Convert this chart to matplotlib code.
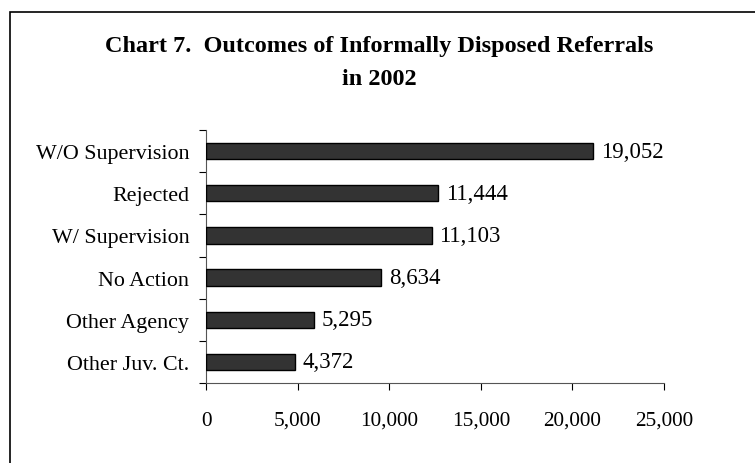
""" Horizontal bar chart of informally disposed referral outcomes.
"""

import matplotlib
matplotlib.use('Agg')
import matplotlib.pyplot as plt
from matplotlib.patches import Rectangle
from matplotlib.ticker import FuncFormatter, FixedLocator

categories = ['W/O Supervision', 'Rejected', 'W/ Supervision',
              'No Action', 'Other Agency', 'Other Juv. Ct.']
counts = [19052, 11444, 11103, 8634, 5295, 4372]
x_ticks = [0, 5000, 10000, 15000, 20000, 25000]

title = 'Chart 7.  Outcomes of Informally Disposed Referrals\nin 2002'

# the original draws its bars on a slightly shorter scale than the tick axis
bar_scale_max = 22550
axis_max = 25000

plt.rcParams['font.family'] = ['Liberation Serif', 'DejaVu Serif']

fig = plt.figure(figsize=(7.55, 4.64), dpi=100)

# outer frame, open to the right and bottom like the clipped original
fig.patches.append(Rectangle((10 / 755, -0.1), 1.2, 1 - 13 / 464 + 0.1,
                             transform=fig.transFigure, fill=False,
                             edgecolor='black', linewidth=1.2))

fig.text(379 / 755, 1 - 63 / 464, title, ha='center', va='center',
         fontsize=17.5, fontweight='bold', linespacing=1.8)

ax = fig.add_axes([206 / 755, 1 - 384 / 464, 458 / 755, 253 / 464])
ax.set_xlim(0, axis_max)

ax.set_xticks(x_ticks)
ax.xaxis.set_major_formatter(FuncFormatter(lambda v, p: '{:,}'.format(int(v))))
ax.tick_params(axis='x', length=5, width=0.8, direction='out', pad=15,
               labelsize=15.3)

bars = ax.twiny()
bars.set_xlim(0, bar_scale_max)
bars.xaxis.set_visible(False)

ypos = list(range(len(categories)))
bars.barh(ypos, counts, height=0.39, color='#333333', edgecolor='black',
          linewidth=1.0)

for y, v in zip(ypos, counts):
    bars.text(v + 390, y, '{:,}'.format(v), va='center', ha='left',
              fontsize=16.5)

ax.set_ylim(len(categories) - 0.5, -0.5)
bars.set_ylim(len(categories) - 0.5, -0.5)

ax.set_yticks(ypos)
ax.set_yticklabels(categories, fontsize=15.8)
ax.yaxis.set_minor_locator(FixedLocator([y - 0.5 for y in range(len(categories) + 1)]))
ax.tick_params(axis='y', which='major', length=0, pad=12)
ax.tick_params(axis='y', which='minor', length=5, width=0.8, direction='out')

for a in [ax, bars]:
    for side in ['top', 'right']:
        a.spines[side].set_visible(False)
bars.spines['left'].set_visible(False)
bars.spines['bottom'].set_visible(False)
for side in ['left', 'bottom']:
    ax.spines[side].set_color('#555555')
    ax.spines[side].set_linewidth(0.8)

fig.savefig('out.png', dpi=100)
